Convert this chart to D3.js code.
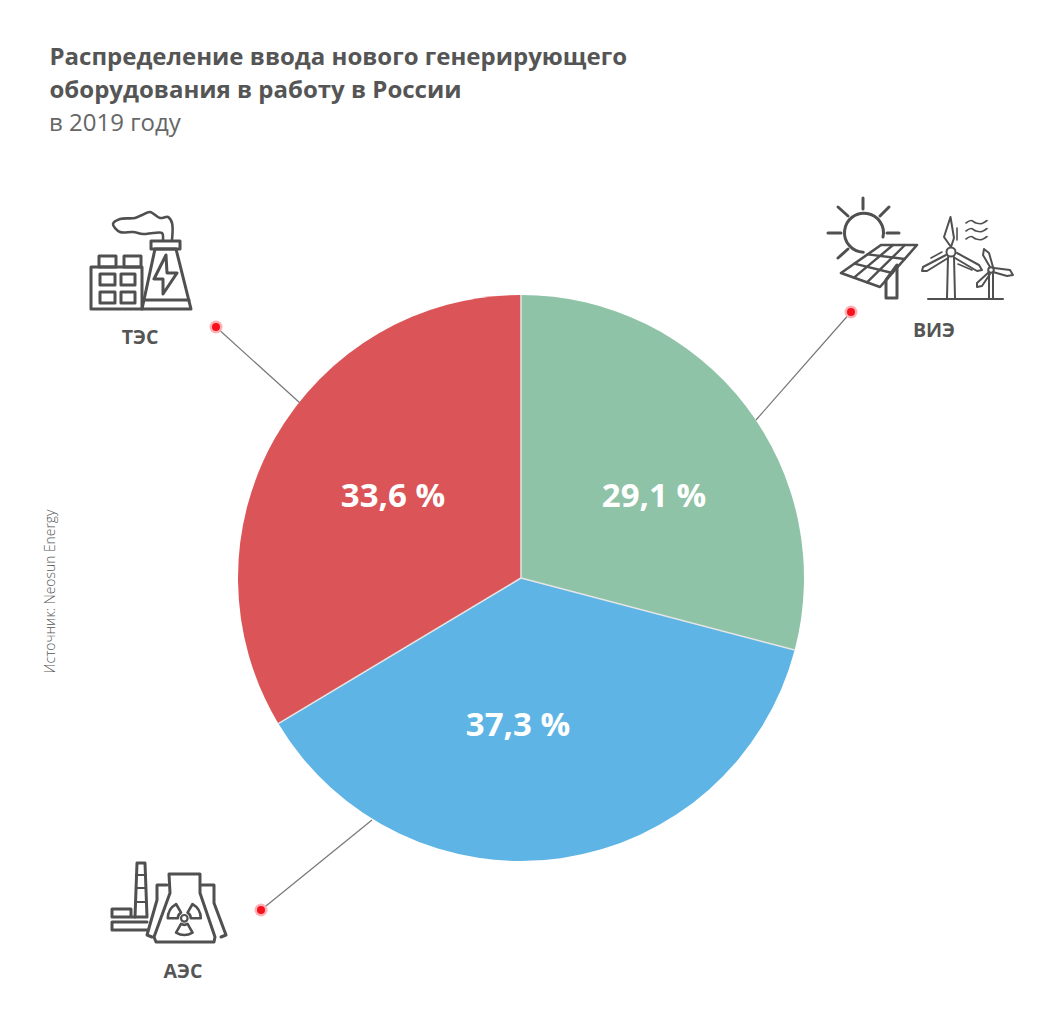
<!DOCTYPE html>
<html>
<head>
<meta charset="utf-8">
<script src="https://cdn.jsdelivr.net/npm/d3@7"></script>
<style>
  html, body { margin: 0; padding: 0; background: #fff; }
  svg { display: block; }
  text { font-family: "Open Sans", sans-serif; fill: #555; }
</style>
</head>
<body>
<svg id="chart" width="1048" height="1024"></svg>
<script>
const categories = ["ВИЭ", "АЭС", "ТЭС"];
const shares = [29.1, 37.3, 33.6];
const sliceColors = ["#8fc3a7", "#5eb5e5", "#db5558"];
const titleLines = ["Распределение ввода нового генерирующего", "оборудования в работу в России"];
const subtitle = "в 2019 году";
const source = "Источник: Neosun Energy";

const width = 1048, height = 1024;
const cx = 521, cy = 578, radius = 283;

// hand placed annotations, same order as categories
const valuePos = [[654, 507], [518, 736], [393, 507]];
const namePos = [[934, 337], [183, 978], [140, 344]];
const leaders = [
  {from: [756, 420], dot: [851, 312]},
  {from: [372, 820], dot: [261, 910]},
  {from: [300, 403], dot: [216, 327]}
];

const svg = d3.select("#chart");

// title
svg.selectAll(".title-line")
  .data(titleLines)
  .enter().append("text")
  .attr("class", "title-line")
  .attr("x", 49.5)
  .attr("y", (d, i) => 65 + i * 33)
  .style("font-size", "24px")
  .style("font-weight", 700)
  .text(d => d);

svg.append("text")
  .attr("x", 49)
  .attr("y", 131)
  .style("font-size", "24px")
  .style("fill", "#666")
  .text(subtitle);

svg.append("text")
  .attr("transform", "translate(55,591.5) rotate(-90)")
  .attr("text-anchor", "middle")
  .style("font-size", "13.9px")
  .style("font-weight", 300)
  .style("fill", "#555")
  .text(source);

// leader lines go under the pie
const gLeaders = svg.append("g");
gLeaders.selectAll("line")
  .data(leaders)
  .enter().append("line")
  .attr("x1", d => d.from[0])
  .attr("y1", d => d.from[1])
  .attr("x2", d => d.dot[0])
  .attr("y2", d => d.dot[1])
  .attr("stroke", "#777")
  .attr("stroke-width", 1.2);
gLeaders.selectAll(".halo")
  .data(leaders)
  .enter().append("circle")
  .attr("class", "halo")
  .attr("cx", d => d.dot[0])
  .attr("cy", d => d.dot[1])
  .attr("r", 6.5)
  .attr("fill", "#ffb0b4");
gLeaders.selectAll(".dot")
  .data(leaders)
  .enter().append("circle")
  .attr("class", "dot")
  .attr("cx", d => d.dot[0])
  .attr("cy", d => d.dot[1])
  .attr("r", 4)
  .attr("fill", "#f8101c");

// pie
const pie = d3.pie().sort(null).value(d => d);
const arc = d3.arc().innerRadius(0).outerRadius(radius);
const slices = pie(shares);

const gPie = svg.append("g")
  .attr("transform", `translate(${cx},${cy})`);

gPie.selectAll("path")
  .data(slices)
  .enter().append("path")
  .attr("d", arc)
  .attr("fill", (d, i) => sliceColors[i]);

// light separators, no outline on the rim
gPie.selectAll("line")
  .data(slices)
  .enter().append("line")
  .attr("x2", d => d3.pointRadial(d.startAngle, radius)[0])
  .attr("y2", d => d3.pointRadial(d.startAngle, radius)[1])
  .attr("stroke", "#e6e6e6")
  .attr("stroke-width", 1.5);

svg.selectAll(".value")
  .data(shares)
  .enter().append("text")
  .attr("class", "value")
  .attr("x", (d, i) => valuePos[i][0])
  .attr("y", (d, i) => valuePos[i][1])
  .attr("text-anchor", "middle")
  .style("font-size", "33px")
  .style("font-weight", 700)
  .style("fill", "#fff")
  .text(d => d.toFixed(1).replace(".", ",") + " %");

svg.selectAll(".name")
  .data(categories)
  .enter().append("text")
  .attr("class", "name")
  .attr("x", (d, i) => namePos[i][0])
  .attr("y", (d, i) => namePos[i][1])
  .attr("text-anchor", "middle")
  .style("font-size", "19.5px")
  .style("font-weight", 700)
  .text(d => d);

// icons
const gIcons = svg.append("g")
  .attr("fill", "none")
  .attr("stroke", "#505050")
  .attr("stroke-width", 3)
  .attr("stroke-linejoin", "round")
  .attr("stroke-linecap", "round");

const straight = d3.line();
const smooth = d3.line().curve(d3.curveCatmullRom);

function poly(pts, closed, w) {
  gIcons.append("path")
    .attr("d", straight(pts) + (closed ? "Z" : ""))
    .attr("stroke-width", w || null);
}
function curve(pts, w) {
  gIcons.append("path")
    .attr("d", smooth(pts))
    .attr("stroke-width", w || null);
}
function box(x0, y0, x1, y1, w) {
  poly([[x0, y0], [x1, y0], [x1, y1], [x0, y1]], true, w);
}

// ТЭС
box(91, 267, 142, 309);
box(99, 256, 116, 267);
box(124, 256, 141, 267);
box(100, 274, 115, 285);
box(121, 274, 135, 285);
box(100, 292, 115, 303);
box(121, 292, 135, 303);
box(151, 241, 180, 249);
poly([[155, 249], [142, 309], [191, 309], [176, 249]], true);
poly([[144, 300], [189, 300]]);
poly([[166, 255], [154, 279], [163, 279], [163, 294], [177, 273], [167, 273]], true);
curve([[172, 240], [172, 223], [168, 217], [160, 218], [150, 212], [142, 215], [135, 218],
  [120, 219], [113, 224], [120, 232], [133, 232], [143, 234], [153, 233], [162, 233], [163, 240]], 2.6);

// ВИЭ, sun and panel
const sun = [863.3, 232.7];
const rays = [
  [[863, 198], [863, 209]], [[828, 233], [841, 233]], [[887, 233], [899, 233]],
  [[838, 207], [848, 216]], [[889, 207], [880, 216]], [[838, 258], [848, 249]]
];
rays.forEach(r => poly(r));
gIcons.append("path")
  .attr("d", `M${sun[0]},${sun[1] + 19.5}A19.5,19.5 0 1 1 883,237`);

const panel = [[881, 245], [917, 245], [880, 287], [841, 273]];
poly(panel, true, 2.6);
[1 / 3, 2 / 3].forEach(t => {
  const a = d3.interpolate(panel[0], panel[1])(t), b = d3.interpolate(panel[3], panel[2])(t);
  const c = d3.interpolate(panel[0], panel[3])(t), e = d3.interpolate(panel[1], panel[2])(t);
  poly([a, b], false, 2.4);
  poly([c, e], false, 2.4);
});
poly([[886, 298], [886, 280], [897, 265], [897, 298]], true);

// ВИЭ, turbines
poly([[928, 299], [1003, 299]], false, 2);
poly([[948, 257], [947, 298]], false, 2);
poly([[954, 257], [955, 298]], false, 2);
gIcons.append("circle").attr("cx", 951).attr("cy", 252).attr("r", 4.5).attr("stroke-width", 2);
poly([[951, 247], [944, 237], [950.5, 217], [954, 238]], true, 2);
poly([[946, 255], [923, 267], [922, 271], [927, 271], [948, 258]], false, 2);
poly([[957, 253], [979, 265], [982, 270], [977, 271], [955, 258]], false, 2);
poly([[989, 273], [989, 298]], false, 2);
poly([[993, 273], [993, 298]], false, 2);
gIcons.append("circle").attr("cx", 991).attr("cy", 270).attr("r", 2.8).attr("stroke-width", 2);
poly([[990, 267], [983, 255], [984, 249], [989, 253], [993, 267]], false, 2);
poly([[994, 268], [1010, 270], [1013, 275], [1007, 276], [993, 272]], false, 2);
poly([[989, 272], [977, 283], [977, 287], [982, 286], [990, 274]], false, 2);
[222, 230, 238].forEach(y => {
  curve([[966, y + 1], [971, y - 1.5], [976, y + 1], [982, y + 1.5], [987, y - 1.5]], 1.6);
});
poly([[957, 228], [957, 240]], false, 1.6);
poly([[931, 258], [942, 252]], false, 1.6);
poly([[958, 264], [972, 270]], false, 1.6);

// АЭС
poly([[137, 863], [145, 863], [147, 917], [135, 917]], true);
[875, 888, 902].forEach(y => poly([[136, y], [146, y]], false, 2.2));
poly([[131, 917], [131, 909], [112, 909], [112, 917], [135, 917]]);
poly([[147, 922], [112, 922], [112, 930], [147, 930]]);
poly([[169, 874], [200, 874], [200, 893], [215, 937], [214, 942], [156, 942], [154, 937], [170, 893]], true);
poly([[167, 885], [157, 885], [157, 900], [147, 935], [152, 937]]);
poly([[202, 885], [214, 885], [214, 903], [226, 935], [221, 937]]);
gIcons.append("circle").attr("cx", 184.3).attr("cy", 918.3).attr("r", 3.3).attr("stroke-width", 2.2);
const blade = d3.arc().innerRadius(6.5).outerRadius(16.5);
const bladeAngles = [-60, 60, 180];
gIcons.selectAll(".blade")
  .data(bladeAngles)
  .enter().append("path")
  .attr("class", "blade")
  .attr("transform", "translate(184.3,918.3)")
  .attr("stroke-width", 2.6)
  .attr("d", d => blade({startAngle: (d - 30) * Math.PI / 180, endAngle: (d + 30) * Math.PI / 180}));
</script>
</body>
</html>
